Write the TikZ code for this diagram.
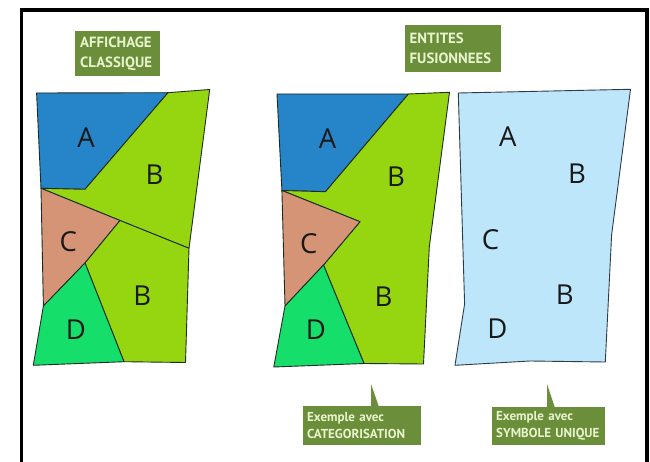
\documentclass[tikz,border=0pt]{standalone}
\usepackage{fontspec}
\setmainfont{Open Sans}
\newfontfamily\tagfont{PT Sans}
\definecolor{zoneA}{RGB}{38,133,200}
\definecolor{zoneB}{RGB}{150,214,16}
\definecolor{zoneC}{RGB}{214,148,118}
\definecolor{zoneD}{RGB}{22,222,106}
\definecolor{zoneU}{RGB}{190,230,250}
\definecolor{outl}{RGB}{30,45,35}
\definecolor{outlU}{RGB}{45,60,75}
\definecolor{tagfill}{RGB}{107,142,58}
\definecolor{tagtext}{RGB}{232,244,205}
\begin{document}
\begin{tikzpicture}[x=1pt,y=-1pt,
  region/.style={draw=outl,line width=0.9pt,line join=round},
  letter/.style={font=\fontsize{27.5}{27.5}\selectfont,text=black!90,inner sep=0pt},
  bigtag/.style={fill=tagfill,text=tagtext,font=\tagfont\bfseries\fontsize{14.8}{20}\selectfont,
    align=left,anchor=north west,inner xsep=5pt,inner ysep=0pt},
  smalltag/.style={fill=tagfill,text=tagtext,font=\tagfont\bfseries\fontsize{13}{17}\selectfont,
    align=left,anchor=north west,inner xsep=4pt,inner ysep=0pt}]
\useasboundingbox (0,0) rectangle (650,462);
\fill[white] (0,0) rectangle (650,462);
% frame
\draw[line width=3.2pt] (21.7,462) -- (21.7,10) -- (647,10) -- (647,462);

% ---------- left map (classic display)
\filldraw[region,fill=zoneA] (36.6,93) -- (168,92.7) -- (85,189.3) -- (41,188.3) -- cycle;
\filldraw[region,fill=zoneB] (168,92.7) -- (209.7,89.5) -- (189,248.3) -- (120,220.5) -- (41,188.3) -- (85,189.3) -- cycle;
\filldraw[region,fill=zoneC] (41,188.3) -- (120,220.5) -- (85,263) -- (43.4,306) -- cycle;
\filldraw[region,fill=zoneB] (120,220.5) -- (189,248.3) -- (185.5,362.5) -- (124,361.7) -- (85,263) -- cycle;
\filldraw[region,fill=zoneD] (43.4,306) -- (85,263) -- (124,361.7) -- (33.3,365.3) -- cycle;
\node[letter] (lA) at (86,138) {A};
\node[letter] (lB1) at (154.6,175) {B};
\node[letter] (lC) at (68.4,242) {C};
\node[letter] (lB2) at (142.2,296) {B};
\node[letter] (lD) at (75.9,329.3) {D};

% ---------- middle map (categorisation)
\filldraw[region,fill=zoneA] (277,94) -- (408.4,94) -- (325.5,191.7) -- (281.9,190.5) -- cycle;
\filldraw[region,fill=zoneB] (408.4,94) -- (449.5,92.3) -- (429.3,246.7) -- (423.5,364) -- (364,363.5) -- (323.5,265) -- (360,221.7) -- (281.9,190.5) -- (325.5,191.7) -- cycle;
\filldraw[region,fill=zoneC] (281.9,190.5) -- (360,221.7) -- (323.5,265) -- (285,306) -- cycle;
\filldraw[region,fill=zoneD] (285,306) -- (323.5,265) -- (364,363.5) -- (273.8,367) -- cycle;
\node[letter] (mA) at (327.5,138.3) {A};
\node[letter] (mB1) at (396,176.7) {B};
\node[letter] (mC) at (308.9,243.3) {C};
\node[letter] (mB2) at (383.5,296.7) {B};
\node[letter] (mD) at (316,330) {D};

% ---------- right map (single symbol)
\filldraw[draw=outlU,line width=0.9pt,line join=round,fill=zoneU] (458.3,93) -- (630.5,89.3) -- (611.6,235) -- (605.3,362) -- (530,361) -- (455,365.3) -- (464.6,304) -- cycle;
\node[letter] (rA) at (507.9,136.7) {A};
\node[letter] (rB1) at (577,173.3) {B};
\node[letter] (rC) at (490.5,240) {C};
\node[letter] (rB2) at (564.7,295) {B};
\node[letter] (rD) at (497.5,328.3) {D};

% ---------- tags
\node[bigtag,text width=75pt,minimum height=45pt] (tclass) at (75,31) {AFFICHAGE\\CLASSIQUE};
\node[bigtag,text width=86pt,minimum height=47pt] (tfus) at (404.5,25) {ENTITES\\FUSIONNEES};

\fill[tagfill] (371,384) -- (371,407) -- (379,407) -- cycle;
\node[smalltag,text width=110pt,minimum height=39pt] (tcat) at (303,406) {Exemple avec\\CATEGORISATION};
\fill[tagfill] (547,384) -- (547,408) -- (555,408) -- cycle;
\node[smalltag,text width=105pt,minimum height=38pt] (tsym) at (492,407) {Exemple avec\\SYMBOLE UNIQUE};
\end{tikzpicture}
\end{document}
